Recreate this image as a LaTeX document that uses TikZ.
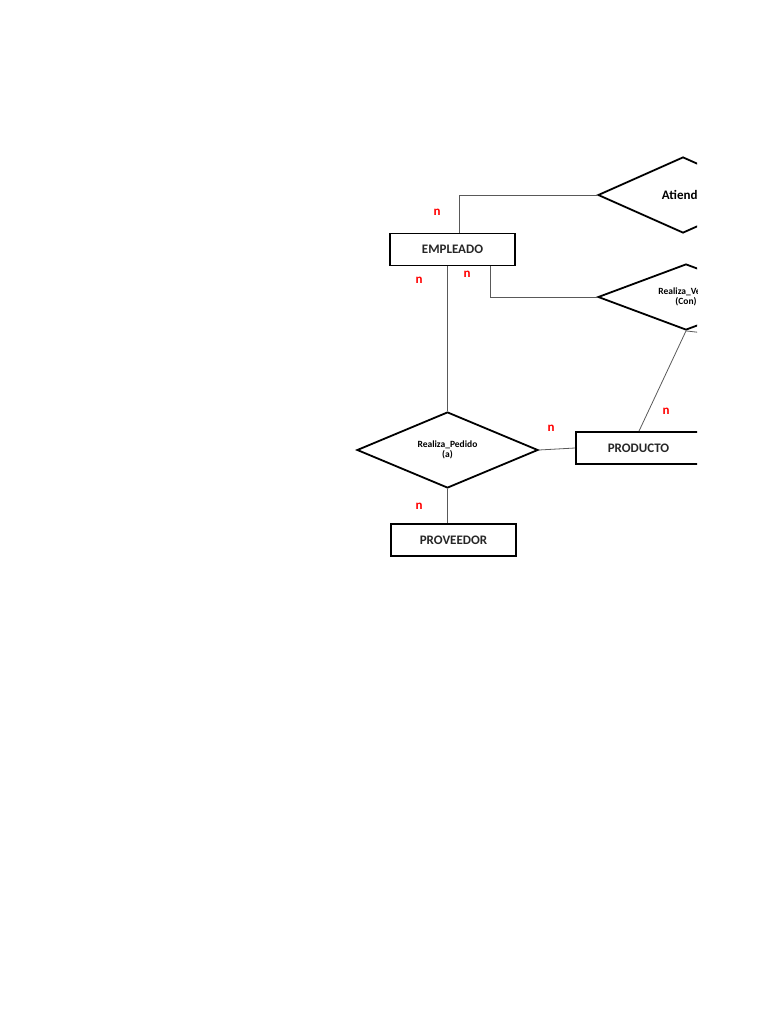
\documentclass[tikz,border=0pt]{standalone}
\usepackage{fontspec}
\setmainfont{Carlito}
\usetikzlibrary{shapes.geometric}

\begin{document}
\begin{tikzpicture}[
        x=1pt, y=-1pt,
    entity/.style={draw, line width=1.8pt, minimum width=125pt, minimum height=32pt,
        inner sep=0pt, text=black!85, font=\bfseries\fontsize{13}{15}\selectfont},
    rel/.style={draw, diamond, line width=1.8pt, inner sep=0pt, align=center},
    link/.style={draw=black!65, line width=0.8pt},
    card/.style={text=red, inner sep=0pt, font=\bfseries\fontsize{13}{14}\selectfont}
]
    \useasboundingbox (0,0) rectangle (768,1024);
    \clip (0,0) rectangle (697,1024);

    \node[entity] (empleado) at (452.5,249.5) {EMPLEADO};
    \node[entity] (proveedor) at (453.5,540) {PROVEEDOR};
    \node[entity] (producto) at (638.5,448) {PRODUCTO};

    \node[rel, minimum width=181pt, minimum height=76pt, aspect=2.38,
        font=\bfseries\fontsize{9.5}{10}\selectfont] (pedido) at (447.5,450)
        {Realiza\_Pedido\\(a)};
    \node[rel, minimum width=170pt, minimum height=76pt, aspect=2.24,
        font=\bfseries\fontsize{13}{15}\selectfont] (atiende) at (683,195) {Atiende};
    \node[rel, minimum width=176pt, minimum height=66pt, aspect=2.67,
        font=\bfseries\fontsize{9.5}{10}\selectfont] (venta) at (686,297)
        {Realiza\_Venta\\(Con)};

    \coordinate (fuera) at (730,336);

    \draw[link] ([xshift=6.5pt]empleado.north) |- (atiende.west);
    \draw[link] ([xshift=37.5pt]empleado.south) |- (venta.west);
    \draw[link] (empleado.south -| pedido.north) -- (pedido.north);
    \draw[link] (pedido.east) -- (producto.west);
    \draw[link] (pedido.south) -- (pedido.south |- proveedor.north);
    \draw[link] (venta.south) -- ([xshift=0.5pt]producto.north);
    \draw[link] (venta.south) -- (fuera);

    \node[card] (n1) at (437,212) {n};
    \node[card] (n2) at (419,280) {n};
    \node[card] (n3) at (467,274) {n};
    \node[card] (n4) at (551,428) {n};
    \node[card] (n5) at (666,411) {n};
    \node[card] (n6) at (419,506) {n};
  \end{tikzpicture}
\end{document}
